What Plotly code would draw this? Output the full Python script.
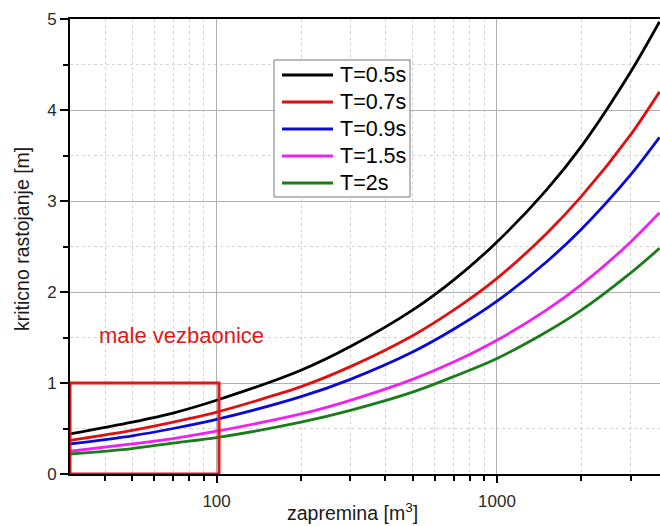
import plotly.graph_objects as go

# Room volume [m^3] at which each curve is sampled
volume = [30, 50, 70, 100, 200, 300, 500, 700, 1000, 1500, 2000, 3000, 3800]

# Critical distance [m] for each reverberation time
rc_t05 = [0.44, 0.57, 0.67, 0.81, 1.14, 1.40, 1.80, 2.13, 2.55, 3.12, 3.60, 4.42, 4.97]
rc_t07 = [0.37, 0.48, 0.57, 0.68, 0.96, 1.18, 1.52, 1.80, 2.15, 2.64, 3.05, 3.73, 4.20]
rc_t09 = [0.33, 0.42, 0.50, 0.60, 0.85, 1.04, 1.34, 1.59, 1.90, 2.33, 2.69, 3.29, 3.70]
rc_t15 = [0.25, 0.33, 0.39, 0.47, 0.66, 0.81, 1.04, 1.23, 1.47, 1.80, 2.08, 2.55, 2.87]
rc_t20 = [0.22, 0.28, 0.34, 0.40, 0.57, 0.70, 0.90, 1.07, 1.27, 1.56, 1.80, 2.21, 2.48]

series_names = ["T=0.5s", "T=0.7s", "T=0.9s", "T=1.5s", "T=2s"]
series_colors = ["#000000", "#e01010", "#0a0ad8", "#f020f0", "#1a7d1a"]

# Region of small rehearsal rooms
small_rooms_v = [30, 102]
small_rooms_rc = [0, 1]

FONT = "Arial, Liberation Sans, sans-serif"
W, H = 660, 526
ML, MR, MT, MB = 70, 0, 19, 52
PW, PH = W - ML - MR, H - MT - MB


def px(xp):
    """Horizontal pixel -> paper coordinate."""
    return (xp - ML) / PW


def py(yp):
    """Vertical pixel (from top) -> paper coordinate."""
    return (H - MB - yp) / PH


fig = go.Figure()
for name, vals, col in zip(series_names, [rc_t05, rc_t07, rc_t09, rc_t15, rc_t20], series_colors):
    fig.add_trace(go.Scatter(
        x=volume, y=vals, name=name, mode="lines", showlegend=False,
        line=dict(color=col, width=2.8, shape="spline", smoothing=0.8),
    ))

fig.add_shape(
    type="rect", xref="x", yref="y",
    x0=small_rooms_v[0], x1=small_rooms_v[1], y0=small_rooms_rc[0], y1=small_rooms_rc[1],
    line=dict(color="#e01818", width=3), fillcolor="rgba(0,0,0,0)", layer="above",
)
fig.add_annotation(
    x=px(97), y=py(335), xref="paper", yref="paper", xanchor="left", yanchor="middle",
    text="male vezbaonice", showarrow=False,
    font=dict(family=FONT, size=22, color="#e01818"),
)

# Legend box drawn by hand so the line samples have the wide, boxed look
fig.add_shape(type="rect", xref="paper", yref="paper",
              x0=px(274), x1=px(410), y0=py(197), y1=py(60),
              line=dict(color="#777777", width=1), fillcolor="white", layer="above")
for i, (name, col) in enumerate(zip(series_names, series_colors)):
    yc = 75 + i * 27
    fig.add_shape(type="line", xref="paper", yref="paper",
                  x0=px(282), x1=px(333), y0=py(yc), y1=py(yc),
                  line=dict(color=col, width=3), layer="above")
    fig.add_annotation(x=px(338), y=py(yc), xref="paper", yref="paper",
                       xanchor="left", yanchor="middle", text=name, showarrow=False,
                       font=dict(family=FONT, size=21.5, color="#000000"))

# Axis titles
fig.add_annotation(x=px(352), y=py(512), xref="paper", yref="paper",
                   xanchor="center", yanchor="middle", showarrow=False,
                   text="zapremina [m<sup>3</sup>]",
                   font=dict(family=FONT, size=19.5, color="#1a1a1a"))
fig.add_annotation(x=px(22), y=py(239), xref="paper", yref="paper",
                   xanchor="center", yanchor="middle", showarrow=False, textangle=-90,
                   text="kriticno rastojanje [m]",
                   font=dict(family=FONT, size=19.5, color="#1a1a1a"))

minor_x = [40, 50, 60, 70, 80, 90, 200, 300, 400, 500, 600, 700, 800, 900, 2000, 3000]

fig.update_layout(
    width=W, height=H,
    margin=dict(l=ML, r=MR, t=MT, b=MB),
    plot_bgcolor="white", paper_bgcolor="white",
    font=dict(family=FONT, size=17, color="#2a2a2a"),
    showlegend=False,
    xaxis=dict(
        type="log", range=[1.4771, 3.5815],
        tickvals=[100, 1000], ticktext=["100", "1000"],
        ticks="outside", ticklen=7, tickwidth=1.5, tickcolor="#000000",
        ticklabelstandoff=4,
        showline=True, linecolor="#000000", linewidth=2, mirror=True,
        showgrid=True, gridcolor="#b0b0b0", gridwidth=1,
        zeroline=False,
        minor=dict(tickvals=minor_x, ticks="outside", ticklen=5, tickcolor="#000000",
                   showgrid=True, gridcolor="#d4d4d4", griddash="dot", gridwidth=1),
    ),
    yaxis=dict(
        range=[0, 5], tickvals=[0, 1, 2, 3, 4, 5],
        ticks="outside", ticklen=8, tickwidth=1.5, tickcolor="#000000",
        showline=True, linecolor="#000000", linewidth=2,
        showgrid=True, gridcolor="#b0b0b0", gridwidth=1,
        zeroline=False,
        minor=dict(tickvals=[0.5, 1.5, 2.5, 3.5, 4.5], ticks="outside", ticklen=5, tickcolor="#000000",
                   showgrid=True, gridcolor="#d4d4d4", griddash="dot", gridwidth=1),
    ),
)

fig.write_html("out.html")
